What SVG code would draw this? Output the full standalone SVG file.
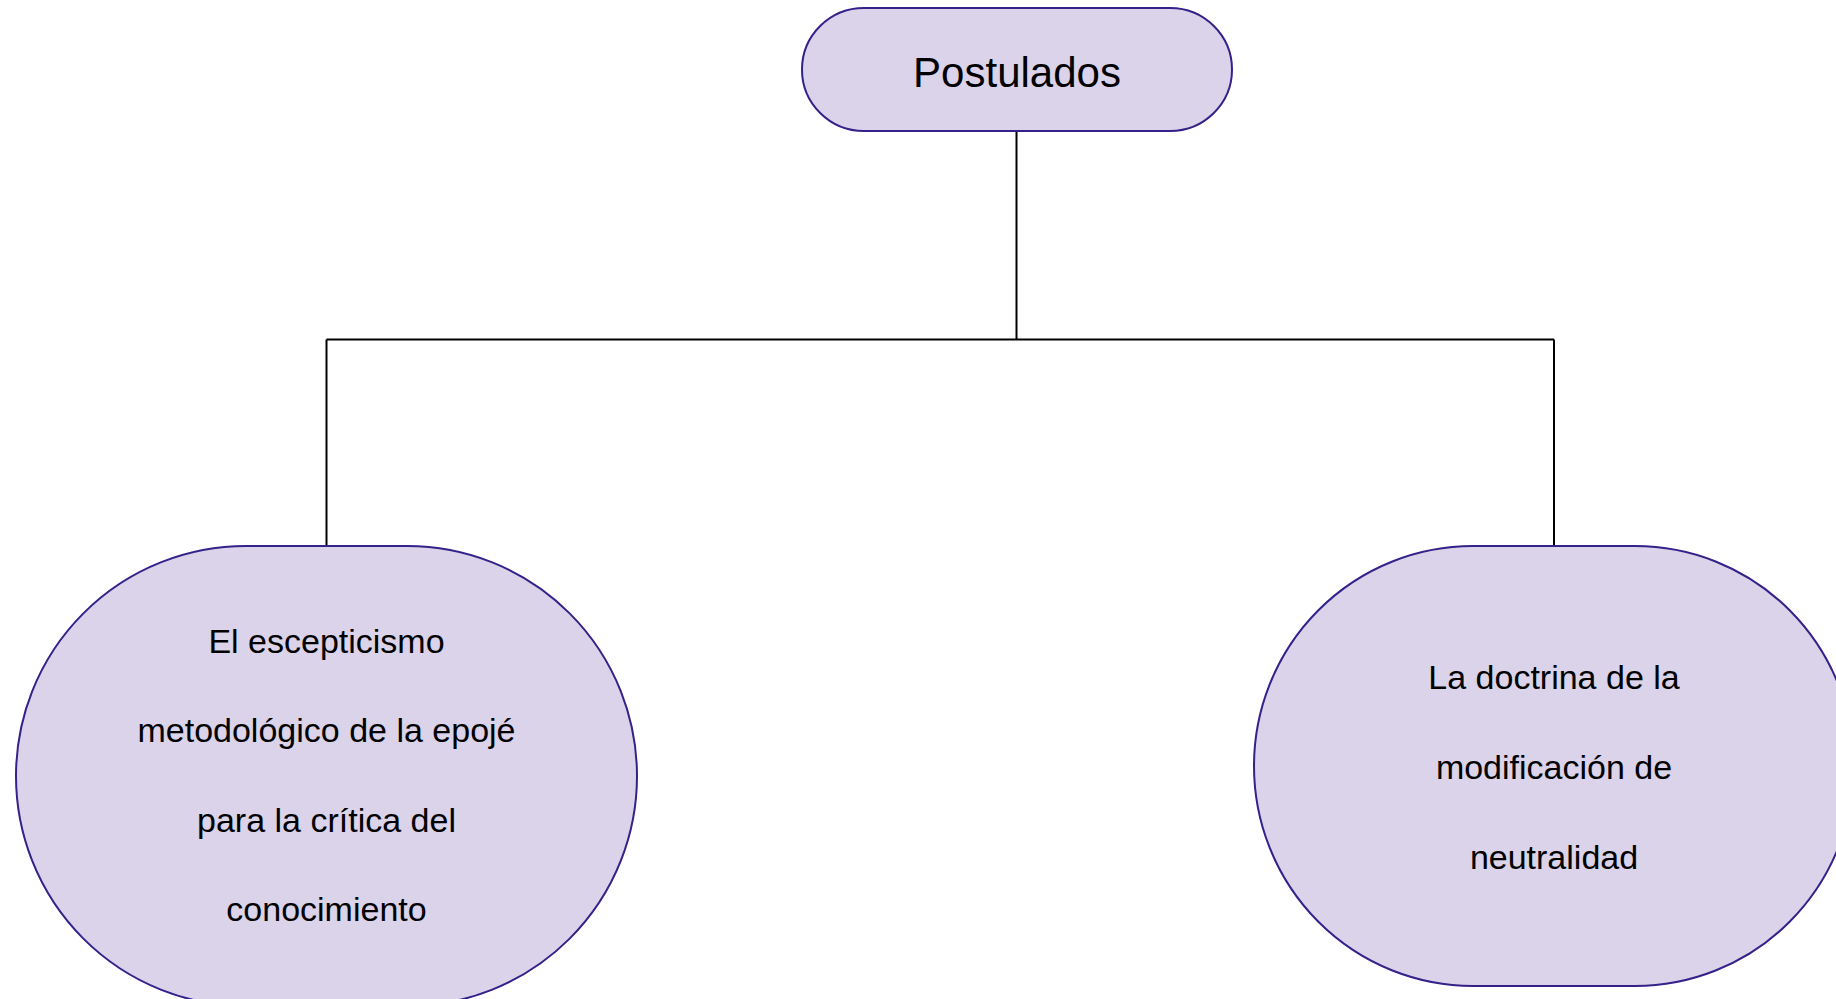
<svg xmlns="http://www.w3.org/2000/svg" width="1836" height="999" viewBox="0 0 1836 999">
<style>
.node{fill:#DAD3EA;stroke:#35218A;stroke-width:2}
.conn{fill:none;stroke:#000;stroke-width:2}
.t{font-family:"Liberation Sans",Arial,sans-serif;fill:#000;text-anchor:middle}
.title{font-size:42px}
.body{font-size:34px}
</style>
<rect width="1836" height="999" fill="#fff"/>
<g id="connectors">
<path class="conn" d="M1016.5,131 V339.5"/>
<path class="conn" d="M326.5,339.5 H1554 M326.5,339.5 V546 M1554,339.5 V546"/>
</g>
<g id="node-postulados">
<rect class="node" x="802" y="8" width="430" height="123" rx="62" ry="61.5"/>
<text class="t title" x="1017" y="87">Postulados</text>
</g>
<g id="node-escepticismo">
<rect class="node" x="16" y="546" width="621" height="460" rx="230" ry="230"/>
<text class="t body" x="326.5" y="653">El escepticismo</text>
<text class="t body" x="326.5" y="742">metodológico de la epojé</text>
<text class="t body" x="326.5" y="832">para la crítica del</text>
<text class="t body" x="326.5" y="921">conocimiento</text>
</g>
<g id="node-doctrina">
<rect class="node" x="1254" y="546" width="600" height="440" rx="219" ry="220"/>
<text class="t body" x="1554" y="689">La doctrina de la</text>
<text class="t body" x="1554" y="779">modificación de</text>
<text class="t body" x="1554" y="869">neutralidad</text>
</g>
</svg>
